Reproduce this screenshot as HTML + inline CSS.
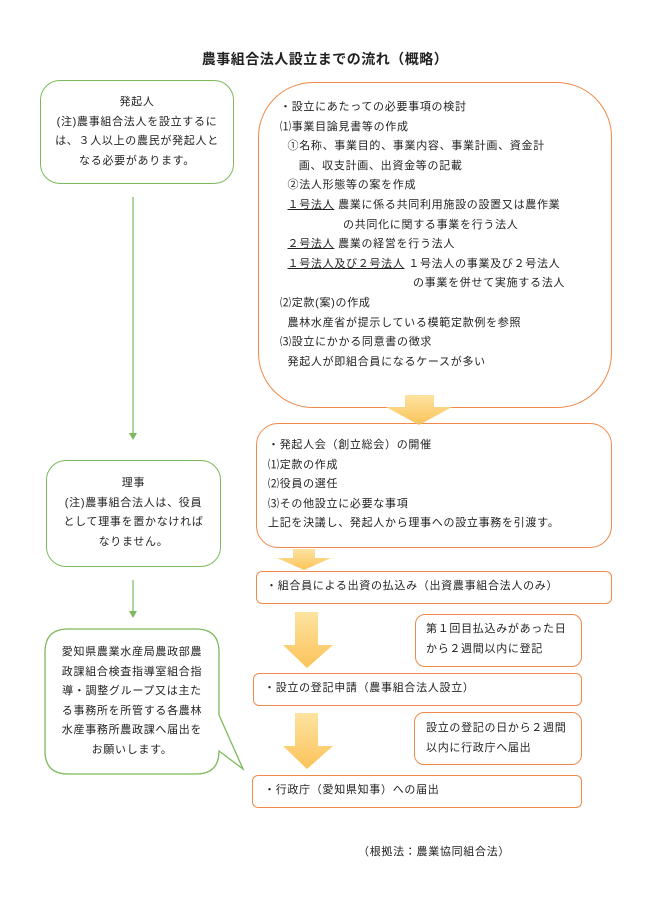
<!DOCTYPE html>
<html><head><meta charset="utf-8"><style>
body{margin:0;background:#fff;width:650px;height:919px;position:relative;overflow:hidden;font-family:"Liberation Sans","Noto Sans CJK JP",sans-serif;color:#222;font-size:11px;letter-spacing:0.7px}
.b{position:absolute;box-sizing:border-box;background:#fff}
.g{border:1.3px solid #7cb95a}
.o{border:1.3px solid #f0894a}
.t{position:absolute;white-space:nowrap;line-height:19.6px}
u{text-decoration:underline}
.c{text-align:center;line-height:19.6px}
</style></head><body>
<div class="t" style="left:0;width:650px;top:50px;text-align:center;font-size:14px;font-weight:bold;letter-spacing:0.5px">農事組合法人設立までの流れ（概略）</div>

<div class="b g" style="left:40px;top:80px;width:194px;height:104px;border-radius:20px"></div>
<div class="t c" style="left:40px;width:194px;top:93px">発起人<br>(注)農事組合法人を設立するに<br>は、３人以上の農民が発起人と<br>なる必要があります。</div>

<svg style="position:absolute;left:0;top:0" width="650" height="919">
<line x1="133" y1="197" x2="133" y2="434" stroke="#7cb95a" stroke-width="1.2"/>
<polygon points="129,433 137,433 133,440" fill="#7cb95a"/>
<line x1="133" y1="580" x2="133" y2="612" stroke="#7cb95a" stroke-width="1.2"/>
<polygon points="129,611 137,611 133,618" fill="#7cb95a"/>
</svg>

<div class="b o" style="left:258px;top:82px;width:354px;height:326px;border-radius:55px"></div>
<div class="t" style="left:280px;top:98px">・設立にあたっての必要事項の検討<br>⑴事業目論見書等の作成<br>&nbsp;&nbsp;①名称、事業目的、事業内容、事業計画、資金計<br>&nbsp;&nbsp;&nbsp;&nbsp;&nbsp;画、収支計画、出資金等の記載<br>&nbsp;&nbsp;②法人形態等の案を作成<br>&nbsp;&nbsp;<u>１号法人</u> 農業に係る共同利用施設の設置又は農作業<br><span style="padding-left:63px">の共同化に関する事業を行う法人</span><br>&nbsp;&nbsp;<u>２号法人</u> 農業の経営を行う法人<br>&nbsp;&nbsp;<u>１号法人及び２号法人</u> １号法人の事業及び２号法人<br><span style="padding-left:133px">の事業を併せて実施する法人</span><br>⑵定款(案)の作成<br>&nbsp;&nbsp;農林水産省が提示している模範定款例を参照<br>⑶設立にかかる同意書の徴求<br>&nbsp;&nbsp;発起人が即組合員になるケースが多い</div>

<div class="b o" style="left:256px;top:423px;width:356px;height:125px;border-radius:22px"></div>
<div class="t" style="left:268px;top:436px">・発起人会（創立総会）の開催<br>⑴定款の作成<br>⑵役員の選任<br>⑶その他設立に必要な事項<br>上記を決議し、発起人から理事への設立事務を引渡す。</div>

<div class="b g" style="left:46px;top:460px;width:175px;height:107px;border-radius:20px"></div>
<div class="t c" style="left:46px;width:175px;top:474px">理事<br>(注)農事組合法人は、役員<br>として理事を置かなければ<br>なりません。</div>

<div class="b o" style="left:256px;top:571px;width:356px;height:33px;border-radius:6px"></div>
<div class="t" style="left:266px;top:577px">・組合員による出資の払込み（出資農事組合法人のみ）</div>

<div class="b o" style="left:415px;top:614px;width:167px;height:53px;border-radius:10px"></div>
<div class="t" style="left:426px;top:620px">第１回目払込みがあった日<br>から２週間以内に登記</div>

<div class="b o" style="left:253px;top:673px;width:329px;height:33px;border-radius:6px"></div>
<div class="t" style="left:264px;top:679px">・設立の登記申請（農事組合法人設立）</div>

<div class="b o" style="left:414px;top:712px;width:168px;height:53px;border-radius:10px"></div>
<div class="t" style="left:426px;top:719px">設立の登記の日から２週間<br>以内に行政庁へ届出</div>

<div class="b o" style="left:252px;top:775px;width:330px;height:33px;border-radius:6px"></div>
<div class="t" style="left:264px;top:781px">・行政庁（愛知県知事）への届出</div>

<svg style="position:absolute;left:0;top:0" width="650" height="919">
<defs><linearGradient id="y" x1="0" y1="0" x2="0" y2="1"><stop offset="0" stop-color="#fde3a0"/><stop offset="1" stop-color="#fbc35a"/></linearGradient></defs>
<polygon points="405,395 434,395 434,407 452,407 419,425 386,407 405,407" fill="url(#y)"/>
<polygon points="293,549 315,549 315,558 331,558 304,570 277,558 293,558" fill="url(#y)"/>
<polygon points="295,612 318,612 318,645 333,645 307,668 283,645 295,645" fill="url(#y)"/>
<polygon points="295,713 318,713 318,746 333,746 307,769 283,746 295,746" fill="url(#y)"/>
<path d="M68,629 H196 Q219,629 219,652 V715 L243,769 L219,751 Q219,774 196,774 H68 Q45,774 45,751 V652 Q45,629 68,629 Z" fill="#fff" stroke="#7cb95a" stroke-width="1.3"/>
</svg>
<div class="t c" style="left:45px;width:174px;top:643px">愛知県農業水産局農政部農<br>政課組合検査指導室組合指<br>導・調整グループ又は主た<br>る事務所を所管する各農林<br>水産事務所農政課へ届出を<br>お願いします。</div>

<div class="t" style="left:358px;top:843px">（根拠法：農業協同組合法）</div>
</body></html>
